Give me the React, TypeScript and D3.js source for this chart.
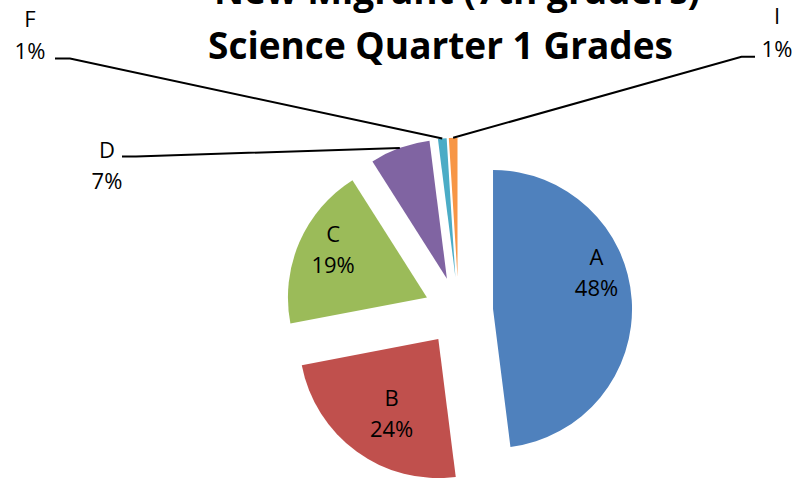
import React from "react";
import * as d3 from "d3";

const categories = ["A", "B", "C", "D", "F", "I"];
const values = [48, 24, 19, 7, 1, 1];
const percentLabels = ["48%", "24%", "19%", "7%", "1%", "1%"];
const colors = ["#4F81BD", "#C0504D", "#9BBB59", "#8064A2", "#4BACC6", "#F79646"];
const titleLines = ["New Migrant (7th graders)", "Science Quarter 1 Grades"];

const W = 803;
const H = 478;
const CX = 458.6;
const CY = 311.2;
const R = 139;
const EXPLODE = 34.5;
const FONT = "'Open Sans', 'DejaVu Sans', sans-serif";

// label layout: inside labels positioned by fraction of slice span and radius factor;
// outside labels positioned by anchor + leader stub
const insideLabel: Record<string, { frac: number; r: number }> = {
  A: { frac: 0.411, r: 0.787 },
  B: { frac: 0.453, r: 0.635 },
  C: { frac: 0.553, r: 0.758 },
};
const outsideLabel: Record<string, { x: number; y1: number; y2: number; lx: number; ly: number; stub: number }> = {
  D: { x: 107, y1: 158.3, y2: 189.3, lx: 122, ly: 156.5, stub: 14 },
  F: { x: 30, y1: 26.7, y2: 58.7, lx: 55, ly: 58.4, stub: 15 },
  I: { x: 777, y1: 24.3, y2: 56.7, lx: 755, ly: 56.7, stub: -13.5 },
};

const polar = (a: number, r: number): [number, number] => [Math.sin(a) * r, -Math.cos(a) * r];

export default function App() {
  const pie = d3
    .pie<number>()
    .sort(null)
    .value((d) => d)
    .startAngle(0)
    .endAngle(2 * Math.PI);
  const arcs = pie(values);
  const arcGen = d3.arc<d3.PieArcDatum<number>>().innerRadius(0).outerRadius(R);

  return (
    <svg
      width={W}
      height={H}
      style={{ position: "absolute", left: 0, top: 0, background: "#fff" }}
      fontFamily={FONT}
    >
      {arcs.map((a, i) => {
        const mid = (a.startAngle + a.endAngle) / 2;
        const [ox, oy] = polar(mid, EXPLODE);
        const vx = CX + ox;
        const vy = CY + oy;
        const cat = categories[i];
        return (
          <g key={cat}>
            <path d={arcGen(a) || ""} transform={`translate(${vx},${vy})`} fill={colors[i]} />
          </g>
        );
      })}
      {arcs.map((a, i) => {
        const cat = categories[i];
        const mid = (a.startAngle + a.endAngle) / 2;
        const [ox, oy] = polar(mid, EXPLODE);
        const vx = CX + ox;
        const vy = CY + oy;
        const il = insideLabel[cat];
        if (il) {
          const ang = a.startAngle + il.frac * (a.endAngle - a.startAngle);
          const [lx, ly] = polar(ang, il.r * R);
          const cx = vx + lx;
          const cy = vy + ly;
          return (
            <g key={cat + "l"} fontSize={22} textAnchor="middle" fill="#000">
              <text x={cx} y={cy - 8}>{cat}</text>
              <text x={cx} y={cy + 23}>{percentLabels[i]}</text>
            </g>
          );
        }
        const ol = outsideLabel[cat];
        const [ex, ey] = polar(mid, R);
        const pts: [number, number][] = [
          [ol.lx, ol.ly],
          [ol.lx + ol.stub, ol.ly],
          [vx + ex, vy + ey],
        ];
        return (
          <g key={cat + "l"}>
            <path d={d3.line()(pts) || ""} fill="none" stroke="#000" strokeWidth={2} />
            <g fontSize={22} textAnchor="middle" fill="#000">
              <text x={ol.x} y={ol.y1}>{cat}</text>
              <text x={ol.x} y={ol.y2}>{percentLabels[i]}</text>
            </g>
          </g>
        );
      })}
      <g fontWeight={700} fontSize={37} textAnchor="middle" fill="#000">
        <text x={457} y={4}>{titleLines[0]}</text>
        <text x={440.5} y={59}>{titleLines[1]}</text>
      </g>
    </svg>
  );
}
